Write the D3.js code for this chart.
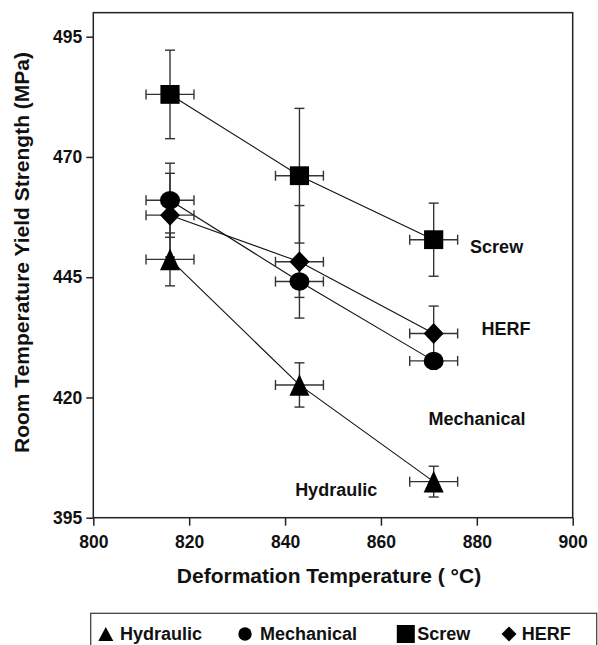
<!DOCTYPE html>
<html>
<head>
<meta charset="utf-8">
<script src="https://cdn.jsdelivr.net/npm/d3@7"></script>
<style>
  body { margin: 0; background: #fff; }
  text { font-family: "Liberation Sans", Arial, sans-serif; font-weight: bold; fill: #111; }
</style>
</head>
<body>
<div class="chart"></div>
<script>
// deformation temperatures (°C) and their horizontal error
const temps = [816, 843, 871];
const tempErr = [5, 5, 5];

// yield strength (MPa) per press type, with error
const hydraulic = [448.7, 422.6, 402.5];
const hydraulicErr = [5.5, 4.6, 3.2];
const mechanical = [461.0, 444.1, 427.6];
const mechanicalErr = [7.7, 3.3, 1.5];
const screw = [483.0, 466.1, 452.8];
const screwErr = [9.2, 14.0, 7.6];
const herf = [457.9, 448.2, 433.3];
const herfErr = [8.7, 11.7, 5.7];

const seriesNames = ["Hydraulic", "Mechanical", "Screw", "HERF"];
const seriesShapes = ["triangle", "circle", "square", "diamond"];

const xTicks = [800, 820, 840, 860, 880, 900];
const yTicks = [395, 420, 445, 470, 495];

const width = 598;
const height = 645;

const svg = d3
  .select(".chart")
  .append("svg")
  .attr("width", width)
  .attr("height", height);

const x = d3.scaleLinear().domain([800, 900]).range([93.3, 572.7]);
const y = d3.scaleLinear().domain([395, 500]).range([517.7, 12.65]);

const series = [
  { name: "Hydraulic", values: hydraulic, err: hydraulicErr, shape: "triangle" },
  { name: "Mechanical", values: mechanical, err: mechanicalErr, shape: "circle" },
  { name: "Screw", values: screw, err: screwErr, shape: "square" },
  { name: "HERF", values: herf, err: herfErr, shape: "diamond" },
];

// symbol outline, w / h are half width / half height
function shapePath(shape, w, h) {
  if (shape == "triangle") return `M0,${-h}L${w},${h}L${-w},${h}Z`;
  if (shape == "square") return `M${-w},${-h}H${w}V${h}H${-w}Z`;
  if (shape == "diamond") return `M0,${-h}L${w},0L0,${h}L${-w},0Z`;
  return `M${-w},0A${w},${h} 0 1,0 ${w},0A${w},${h} 0 1,0 ${-w},0Z`;
}

const plotSizes = {
  triangle: [10, 10.8],
  circle: [10, 9.2],
  square: [9.6, 9.4],
  diamond: [10, 10.5],
};

// axes
const yAxis = d3.axisLeft(y).tickValues(yTicks).tickSize(7).tickSizeOuter(0).tickPadding(4);
const xAxis = d3.axisBottom(x).tickValues(xTicks).tickSize(8).tickSizeOuter(0).tickPadding(10);

const gy = svg.append("g").attr("transform", `translate(${x(800)},0)`).call(yAxis);
const gx = svg.append("g").attr("transform", `translate(0,${y(395)})`).call(xAxis);

[gx, gy].forEach((g) => {
  g.select(".domain").remove();
  g.selectAll(".tick line").attr("stroke", "#222").attr("stroke-width", 1.5);
  g.selectAll(".tick text")
    .attr("fill", "#111")
    .style("font-size", "17.5px")
    .style("font-family", '"Liberation Sans", Arial, sans-serif')
    .style("font-weight", "bold");
});

// frame
svg
  .append("rect")
  .attr("x", x(800))
  .attr("y", y(500))
  .attr("width", x(900) - x(800))
  .attr("height", y(395) - y(500))
  .attr("fill", "none")
  .attr("stroke", "#222")
  .attr("stroke-width", 1.5);

// connecting lines
const line = d3
  .line()
  .x((d, i) => x(temps[i]))
  .y((d) => y(d));

series.forEach((s) => {
  svg
    .append("path")
    .attr("d", line(s.values))
    .attr("fill", "none")
    .attr("stroke", "#111")
    .attr("stroke-width", 1.1);
});

// error bars
const cap = 5;
series.forEach((s) => {
  s.values.forEach((v, i) => {
    const cx = x(temps[i]);
    const cy = y(v);
    const g = svg.append("g").attr("stroke", "#333").attr("stroke-width", 1.4);
    const top = y(v + s.err[i]);
    const bot = y(v - s.err[i]);
    g.append("line").attr("x1", cx).attr("x2", cx).attr("y1", top).attr("y2", bot);
    g.append("line").attr("x1", cx - cap).attr("x2", cx + cap).attr("y1", top).attr("y2", top);
    g.append("line").attr("x1", cx - cap).attr("x2", cx + cap).attr("y1", bot).attr("y2", bot);
    const l = x(temps[i] - tempErr[i]);
    const r = x(temps[i] + tempErr[i]);
    g.append("line").attr("x1", l).attr("x2", r).attr("y1", cy).attr("y2", cy);
    g.append("line").attr("x1", l).attr("x2", l).attr("y1", cy - cap).attr("y2", cy + cap);
    g.append("line").attr("x1", r).attr("x2", r).attr("y1", cy - cap).attr("y2", cy + cap);
  });
});

// symbols
series.forEach((s) => {
  const [w, h] = plotSizes[s.shape];
  svg
    .selectAll(null)
    .data(s.values)
    .enter()
    .append("path")
    .attr("d", shapePath(s.shape, w, h))
    .attr("transform", (d, i) => `translate(${x(temps[i])},${y(d)})`)
    .attr("fill", "#000");
});

// series labels inside the plot
const labelSpots = [
  ["Screw", 878.6, 450.0],
  ["HERF", 881.0, 433.0],
  ["Mechanical", 869.9, 414.3],
  ["Hydraulic", 842.1, 399.6],
];
labelSpots.forEach(([t, lx, ly]) => {
  svg
    .append("text")
    .attr("x", x(lx))
    .attr("y", y(ly))
    .style("font-size", "18px")
    .text(t);
});

// axis titles
svg
  .append("text")
  .attr("x", 329)
  .attr("y", 582.7)
  .attr("text-anchor", "middle")
  .style("font-size", "21px")
  .text("Deformation Temperature ( °C)");

svg
  .append("text")
  .attr("transform", "translate(28.5,252.5) rotate(-90)")
  .attr("text-anchor", "middle")
  .style("font-size", "21px")
  .text("Room Temperature Yield Strength (MPa)");

// legend
svg
  .append("rect")
  .attr("x", 90.7)
  .attr("y", 613.3)
  .attr("width", 506)
  .attr("height", 60)
  .attr("fill", "none")
  .attr("stroke", "#444")
  .attr("stroke-width", 1.3);

const legendSym = [105.8, 245, 405.8, 509];
const legendText = [120, 260, 417.3, 521.7];
const legendSizes = {
  triangle: [7.5, 7],
  circle: [6.7, 6.7],
  square: [9, 9],
  diamond: [7.5, 7.5],
};
seriesNames.forEach((name, i) => {
  const [w, h] = legendSizes[seriesShapes[i]];
  svg
    .append("path")
    .attr("d", shapePath(seriesShapes[i], w, h))
    .attr("transform", `translate(${legendSym[i]},634)`)
    .attr("fill", "#000");
  svg
    .append("text")
    .attr("x", legendText[i])
    .attr("y", 640)
    .style("font-size", "18px")
    .text(name);
});
</script>
</body>
</html>
